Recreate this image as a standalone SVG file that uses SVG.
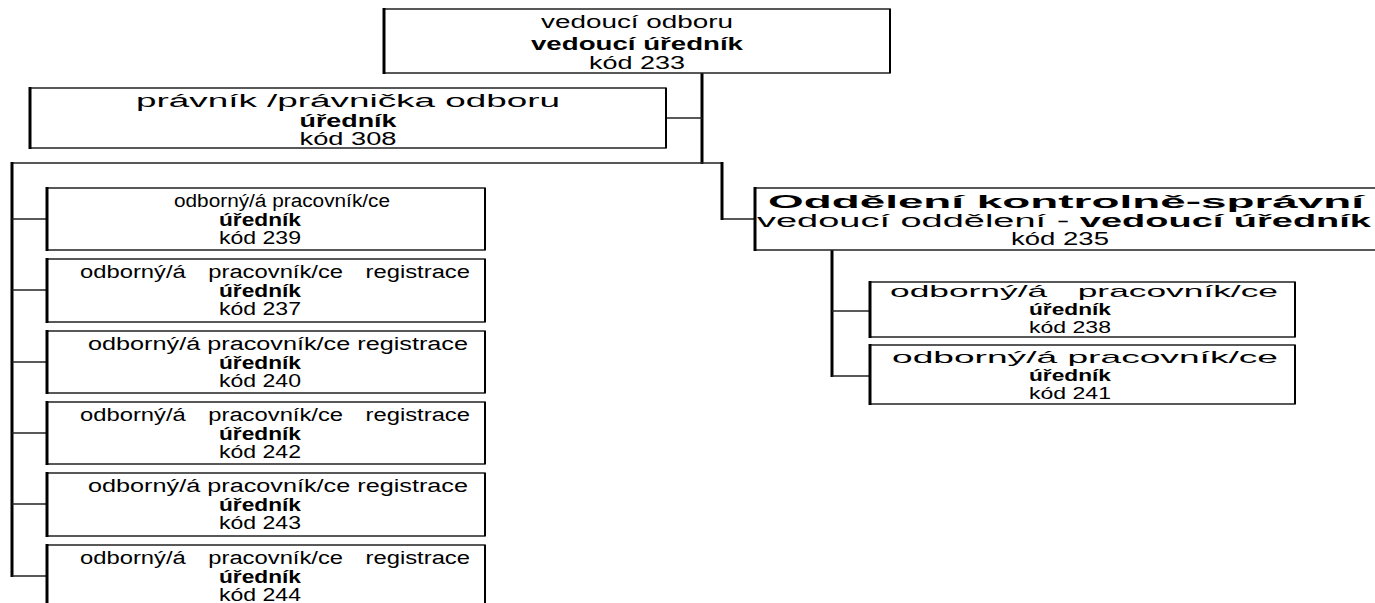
<svg xmlns="http://www.w3.org/2000/svg" width="1375" height="603" viewBox="0 0 1375 603">
  <style>
    .box { fill: #fff; stroke: #222; stroke-width: 1.5; }
    .edge { stroke: #000; stroke-width: 3; }
    .redge { stroke: #000; stroke-width: 2; }
    .t { font-family: "Liberation Sans", Arial, sans-serif; font-size: 18px; fill: #000; text-anchor: middle; }
    .s { font-size: 17px; }
    .b { font-weight: bold; }
    .bus { stroke: #000; stroke-width: 3; fill: none; }
    .tick { stroke: #222; stroke-width: 1.6; fill: none; }
  </style>
  <rect width="1375" height="603" fill="#fff"/>

  <!-- connectors -->
  <g id="connectors">
    <line class="bus" x1="702" y1="73" x2="702" y2="164"/>
    <line class="tick" x1="666" y1="118" x2="702" y2="118"/>
    <polyline class="tick" points="12,163 722,163 722,219 755,219"/>
    <line class="bus" x1="12" y1="162" x2="12" y2="577"/>
    <line class="bus" x1="722" y1="162" x2="722" y2="220"/>
    <line class="tick" x1="12" y1="219" x2="47" y2="219"/>
    <line class="tick" x1="12" y1="290" x2="47" y2="290"/>
    <line class="tick" x1="12" y1="362" x2="47" y2="362"/>
    <line class="tick" x1="12" y1="433" x2="47" y2="433"/>
    <line class="tick" x1="12" y1="504" x2="47" y2="504"/>
    <line class="tick" x1="12" y1="576" x2="47" y2="576"/>
    <line class="bus" x1="832" y1="250" x2="832" y2="377"/>
    <line class="tick" x1="832" y1="311" x2="870" y2="311"/>
    <line class="tick" x1="832" y1="376" x2="870" y2="376"/>
  </g>

  <!-- head of department -->
  <g id="n233">
    <rect class="box" x="384" y="9" width="506" height="64"/>
    <line class="edge" x1="384" y1="8" x2="384" y2="74"/>
    <line class="redge" x1="890" y1="9" x2="890" y2="73"/>
    <text class="t" x="637" y="28" textLength="192" lengthAdjust="spacingAndGlyphs">vedoucí odboru</text>
    <text class="t b" x="637" y="50" textLength="212" lengthAdjust="spacingAndGlyphs">vedoucí úředník</text>
    <text class="t" x="637" y="69" textLength="96" lengthAdjust="spacingAndGlyphs">kód 233</text>
  </g>

  <!-- lawyer -->
  <g id="n308">
    <rect class="box" x="30" y="88" width="636" height="60"/>
    <line class="edge" x1="30" y1="87" x2="30" y2="149"/>
    <line class="redge" x1="666" y1="88" x2="666" y2="148"/>
    <text class="t" x="348" y="107" textLength="424" lengthAdjust="spacingAndGlyphs">právník /právnička odboru</text>
    <text class="t b" x="348" y="127" textLength="97" lengthAdjust="spacingAndGlyphs">úředník</text>
    <text class="t" x="348" y="145" textLength="97" lengthAdjust="spacingAndGlyphs">kód 308</text>
  </g>

  <!-- staff column -->
  <g id="n239">
    <rect class="box" x="47" y="188" width="438" height="62"/>
    <line class="edge" x1="47" y1="187" x2="47" y2="251"/>
    <line class="redge" x1="485" y1="188" x2="485" y2="250"/>
    <text class="t" x="282" y="207" textLength="216" lengthAdjust="spacingAndGlyphs">odborný/á pracovník/ce</text>
    <text class="t b" x="260" y="226" textLength="82" lengthAdjust="spacingAndGlyphs">úředník</text>
    <text class="t" x="260" y="244" textLength="82" lengthAdjust="spacingAndGlyphs">kód 239</text>
  </g>
  <g id="n237">
    <rect class="box" x="47" y="259" width="438" height="63"/>
    <line class="edge" x1="47" y1="258" x2="47" y2="323"/>
    <line class="redge" x1="485" y1="259" x2="485" y2="322"/>
    <text class="t" x="275" y="278" textLength="390" lengthAdjust="spacingAndGlyphs" word-spacing="12">odborný/á pracovník/ce registrace</text>
    <text class="t b" x="260" y="297" textLength="82" lengthAdjust="spacingAndGlyphs">úředník</text>
    <text class="t" x="260" y="315" textLength="82" lengthAdjust="spacingAndGlyphs">kód 237</text>
  </g>
  <g id="n240">
    <rect class="box" x="47" y="331" width="438" height="62"/>
    <line class="edge" x1="47" y1="330" x2="47" y2="394"/>
    <line class="redge" x1="485" y1="331" x2="485" y2="393"/>
    <text class="t" x="278" y="350" textLength="380" lengthAdjust="spacingAndGlyphs">odborný/á pracovník/ce registrace</text>
    <text class="t b" x="260" y="369" textLength="82" lengthAdjust="spacingAndGlyphs">úředník</text>
    <text class="t" x="260" y="387" textLength="82" lengthAdjust="spacingAndGlyphs">kód 240</text>
  </g>
  <g id="n242">
    <rect class="box" x="47" y="402" width="438" height="62"/>
    <line class="edge" x1="47" y1="401" x2="47" y2="465"/>
    <line class="redge" x1="485" y1="402" x2="485" y2="464"/>
    <text class="t" x="275" y="421" textLength="390" lengthAdjust="spacingAndGlyphs" word-spacing="12">odborný/á pracovník/ce registrace</text>
    <text class="t b" x="260" y="440" textLength="82" lengthAdjust="spacingAndGlyphs">úředník</text>
    <text class="t" x="260" y="458" textLength="82" lengthAdjust="spacingAndGlyphs">kód 242</text>
  </g>
  <g id="n243">
    <rect class="box" x="47" y="473" width="438" height="63"/>
    <line class="edge" x1="47" y1="472" x2="47" y2="537"/>
    <line class="redge" x1="485" y1="473" x2="485" y2="536"/>
    <text class="t" x="278" y="492" textLength="380" lengthAdjust="spacingAndGlyphs">odborný/á pracovník/ce registrace</text>
    <text class="t b" x="260" y="511" textLength="82" lengthAdjust="spacingAndGlyphs">úředník</text>
    <text class="t" x="260" y="529" textLength="82" lengthAdjust="spacingAndGlyphs">kód 243</text>
  </g>
  <g id="n244">
    <rect class="box" x="47" y="545" width="438" height="70"/>
    <line class="edge" x1="47" y1="544" x2="47" y2="615"/>
    <line class="redge" x1="485" y1="545" x2="485" y2="615"/>
    <text class="t" x="275" y="564" textLength="390" lengthAdjust="spacingAndGlyphs" word-spacing="12">odborný/á pracovník/ce registrace</text>
    <text class="t b" x="260" y="583" textLength="82" lengthAdjust="spacingAndGlyphs">úředník</text>
    <text class="t" x="260" y="601" textLength="82" lengthAdjust="spacingAndGlyphs">kód 244</text>
  </g>

  <!-- control and administration section -->
  <g id="n235">
    <rect class="box" x="755" y="188" width="640" height="62"/>
    <line class="edge" x1="755" y1="187" x2="755" y2="251"/>
    <text class="t b" x="1066" y="208" textLength="596" lengthAdjust="spacingAndGlyphs">Oddělení kontrolně-správní</text>
    <text class="t" x="1064" y="227" textLength="614" lengthAdjust="spacingAndGlyphs">vedoucí oddělení - <tspan class="b">vedoucí úředník</tspan></text>
    <text class="t" x="1060" y="245" textLength="98" lengthAdjust="spacingAndGlyphs">kód 235</text>
  </g>
  <g id="n238">
    <rect class="box" x="870" y="282" width="425" height="55"/>
    <line class="edge" x1="870" y1="281" x2="870" y2="338"/>
    <line class="redge" x1="1295" y1="282" x2="1295" y2="337"/>
    <text class="t s" x="1084" y="297" textLength="388" lengthAdjust="spacingAndGlyphs" word-spacing="10">odborný/á pracovník/ce</text>
    <text class="t s b" x="1070" y="315" textLength="82" lengthAdjust="spacingAndGlyphs">úředník</text>
    <text class="t s" x="1070" y="333" textLength="82" lengthAdjust="spacingAndGlyphs">kód 238</text>
  </g>
  <g id="n241">
    <rect class="box" x="870" y="345" width="425" height="59"/>
    <line class="edge" x1="870" y1="344" x2="870" y2="405"/>
    <line class="redge" x1="1295" y1="345" x2="1295" y2="404"/>
    <text class="t s" x="1085" y="363" textLength="386" lengthAdjust="spacingAndGlyphs">odborný/á pracovník/ce</text>
    <text class="t s b" x="1070" y="381" textLength="82" lengthAdjust="spacingAndGlyphs">úředník</text>
    <text class="t s" x="1070" y="399" textLength="82" lengthAdjust="spacingAndGlyphs">kód 241</text>
  </g>
</svg>
